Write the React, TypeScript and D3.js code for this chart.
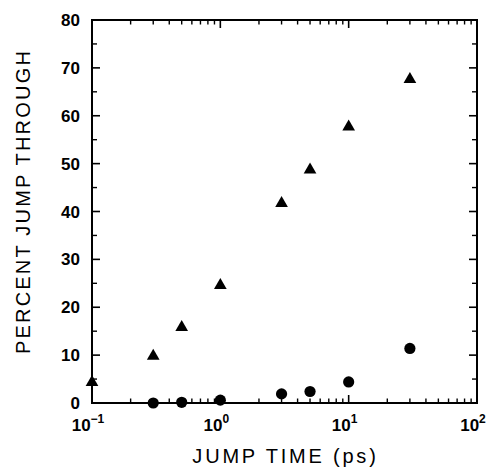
import React from "react";
import * as d3 from "d3";

const jumpTimes = [0.1, 0.3, 0.5, 1, 3, 5, 10, 30];
const triangleValues = [4.3, 9.8, 15.8, 24.6, 41.7, 48.7, 57.7, 67.6];
const circleTimes = [0.3, 0.5, 1, 3, 5, 10, 30];
const circleValues = [0.0, 0.15, 0.6, 1.9, 2.4, 4.4, 11.4];
const yTickValues = [0, 10, 20, 30, 40, 50, 60, 70, 80];
const xDecades = [-1, 0, 1, 2];

const W = 492, H = 468;
const L = 92, R = 477, T = 20, B = 403;
const FONT = "'Liberation Sans', Arial, Helvetica, sans-serif";

export default function App() {
  const x = d3.scaleLog().domain([0.1, 100]).range([L, R]);
  const y = d3.scaleLinear().domain([0, 80]).range([B, T]);

  const minorX: number[] = [];
  for (let e = -1; e < 2; e++) {
    for (let m = 2; m <= 9; m++) minorX.push(m * Math.pow(10, e));
  }
  const majorX = xDecades.map((e) => Math.pow(10, e));
  const minorY = d3.range(5, 80, 10);

  const tri = d3.symbol().type(d3.symbolTriangle).size(70);
  const triPath = tri() || "";

  return (
    <svg width={W} height={H} style={{ position: "absolute", left: 0, top: 0, background: "#fff" }}>
      <rect x={0} y={0} width={W} height={H} fill="#fff" />
      {/* frame */}
      <rect x={L} y={T} width={R - L} height={B - T} fill="none" stroke="#000" strokeWidth={2} />
      {/* x ticks */}
      {majorX.map((v, i) => (
        <g key={"mx" + i}>
          <line x1={x(v)} x2={x(v)} y1={B} y2={B - 8} stroke="#000" strokeWidth={1.6} />
          <line x1={x(v)} x2={x(v)} y1={T} y2={T + 8} stroke="#000" strokeWidth={1.6} />
        </g>
      ))}
      {minorX.map((v, i) => (
        <g key={"nx" + i}>
          <line x1={x(v)} x2={x(v)} y1={B} y2={B - 4.5} stroke="#000" strokeWidth={1.4} />
          <line x1={x(v)} x2={x(v)} y1={T} y2={T + 4.5} stroke="#000" strokeWidth={1.4} />
        </g>
      ))}
      {/* y ticks */}
      {yTickValues.map((v, i) => (
        <g key={"my" + i}>
          <line x1={L} x2={L + 8} y1={y(v)} y2={y(v)} stroke="#000" strokeWidth={1.6} />
          <line x1={R} x2={R - 8} y1={y(v)} y2={y(v)} stroke="#000" strokeWidth={1.6} />
          <text x={80} y={y(v) + 6} textAnchor="end" fontFamily={FONT} fontWeight="bold" fontSize={17} fill="#000">
            {v}
          </text>
        </g>
      ))}
      {minorY.map((v, i) => (
        <g key={"ny" + i}>
          <line x1={L} x2={L + 5} y1={y(v)} y2={y(v)} stroke="#000" strokeWidth={1.4} />
          <line x1={R} x2={R - 5} y1={y(v)} y2={y(v)} stroke="#000" strokeWidth={1.4} />
        </g>
      ))}
      {/* x tick labels */}
      {xDecades.map((e, i) => (
        <text key={"xl" + i} x={x(Math.pow(10, e)) - 4} y={431} textAnchor="middle" fontFamily={FONT} fontWeight="bold" fontSize={17} fill="#000">
          10
          <tspan dy={-8} fontSize={12}>{e < 0 ? "\u2212" + Math.abs(e) : String(e)}</tspan>
        </text>
      ))}
      {/* axis titles */}
      <text x={(L + R) / 2 + 1} y={463} textAnchor="middle" fontFamily={FONT} fontSize={20} letterSpacing={2.8} fill="#000">
        JUMP TIME (ps)
      </text>
      <text
        transform={`translate(30, ${(T + B) / 2 - 10}) rotate(-90)`}
        textAnchor="middle"
        fontFamily={FONT}
        fontSize={20}
        letterSpacing={2.2}
        fill="#000"
      >
        PERCENT JUMP THROUGH
      </text>
      {/* triangles */}
      {jumpTimes.map((t, i) => (
        <path key={"t" + i} d={triPath} transform={`translate(${x(t)},${y(triangleValues[i])})`} fill="#000" />
      ))}
      {/* circles */}
      {circleTimes.map((t, i) => (
        <circle key={"c" + i} cx={x(t)} cy={y(circleValues[i])} r={5.6} fill="#000" />
      ))}
    </svg>
  );
}
